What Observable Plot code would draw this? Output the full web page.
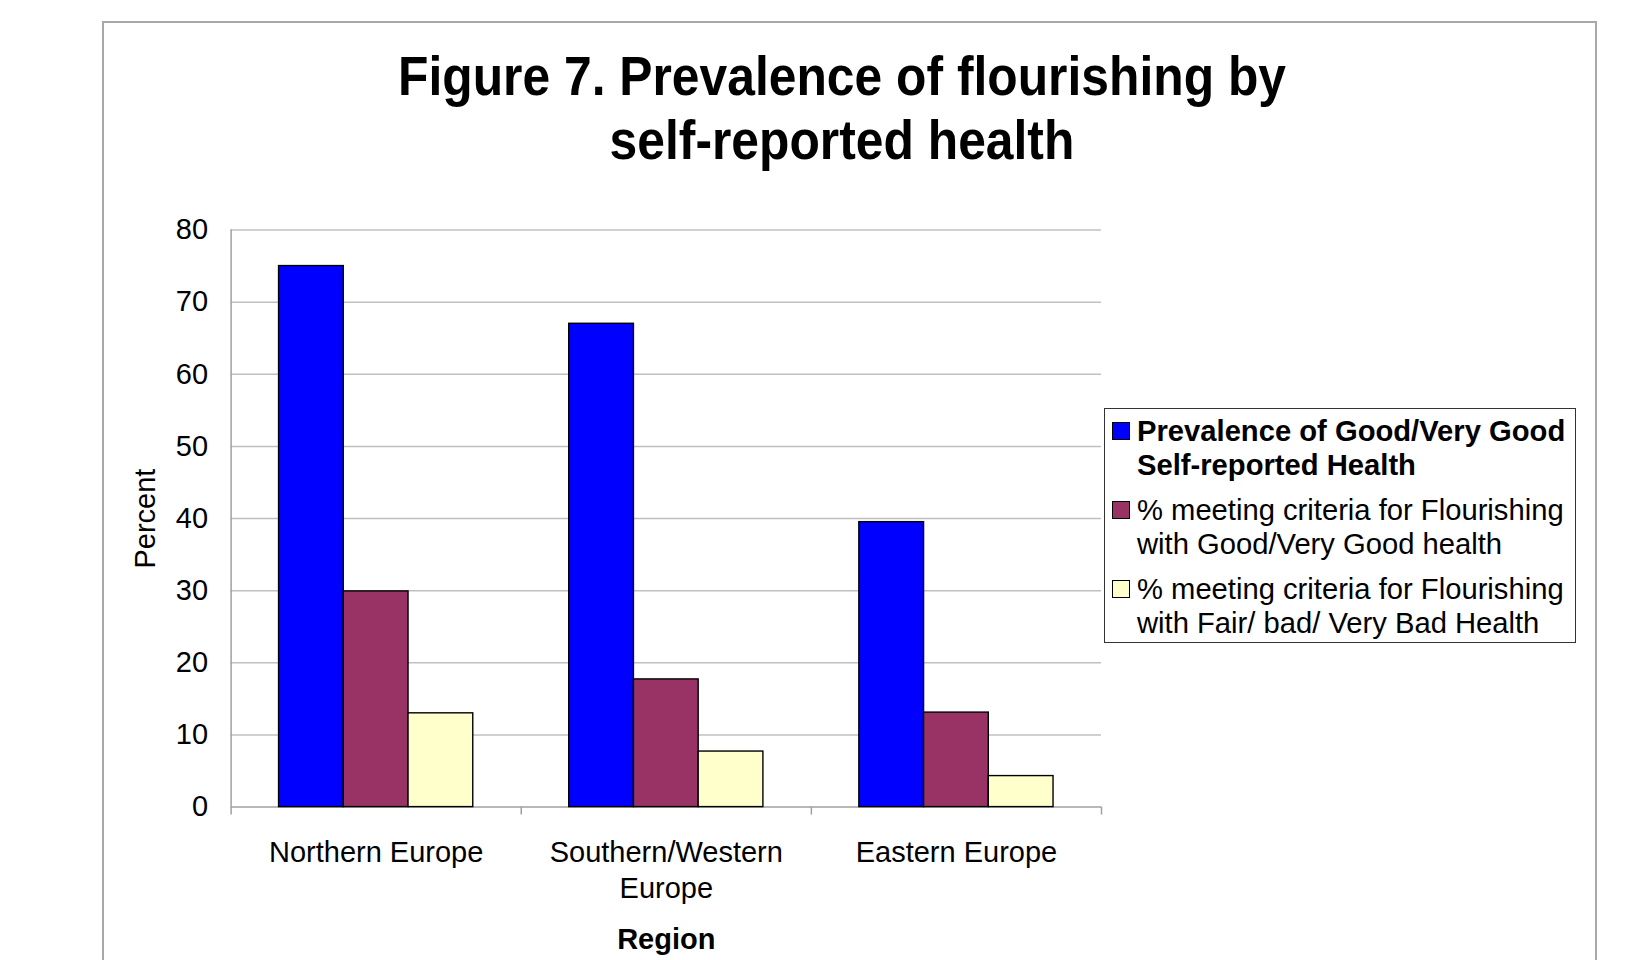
<!DOCTYPE html>
<html>
<head>
<meta charset="utf-8">
<script src="https://cdn.jsdelivr.net/npm/d3@7"></script>
<script src="https://cdn.jsdelivr.net/npm/@observablehq/plot@0.6"></script>
<style>
  html, body { margin: 0; padding: 0; background: #fff; }
  body { width: 1636px; height: 960px; overflow: hidden; position: relative;
         font-family: "Liberation Sans", Arial, Helvetica, sans-serif; color: #000; }
  #frame { position: absolute; left: 102px; top: 21px; width: 1495px; height: 1000px;
           border: 2px solid #a8a8a8; box-sizing: border-box; }
  #chart { position: absolute; left: 0; top: 0; }
  #title { position: absolute; left: 842px; top: 44px; transform: translateX(-50%) scaleX(0.889);
           font-weight: bold; font-size: 56px; line-height: 63.6px; text-align: center; white-space: nowrap; z-index: 2; }
  #legend { position: absolute; left: 1104px; top: 408px; width: 472px; height: 235px; box-sizing: border-box;
            border: 1px solid #333; background: #fff; padding-top: 5px; z-index: 2; }
  .item { display: flex; align-items: flex-start; margin-bottom: 10.8px; }
  .swatch { width: 18px; height: 18px; box-sizing: border-box; border: 1px solid #000;
            margin-left: 7px; margin-top: 8px; flex: none; }
  .label { margin-left: 7px; font-size: 29.2px; line-height: 34px; white-space: nowrap; }
  .label.bold { font-weight: bold; }
</style>
</head>
<body>
<div id="frame"></div>
<div id="chart"></div>
<div id="title"><div>Figure 7. Prevalence of flourishing by</div><div>self-reported health</div></div>
<div id="legend"></div>
<script>
// Regions on the horizontal axis
const regions = ["Northern Europe", "Southern/Western Europe", "Eastern Europe"];
const regionLabels = ["Northern Europe", "Southern/Western\nEurope", "Eastern Europe"];

// Series, in drawing order
const seriesNames = [
  "Prevalence of Good/Very Good\nSelf-reported Health",
  "% meeting criteria for Flourishing\nwith Good/Very Good health",
  "% meeting criteria for Flourishing\nwith Fair/ bad/ Very Bad Health"
];
const seriesColors = ["#0000ff", "#993366", "#ffffcc"];

// Percent values per region (same order as regions)
const goodHealth = [75, 67, 39.5];
const flourishingGoodHealth = [29.9, 17.7, 13.1];
const flourishingPoorHealth = [13, 7.7, 4.3];
const seriesValues = [goodHealth, flourishingGoodHealth, flourishingPoorHealth];

// Axis ticks
const yTicks = [0, 10, 20, 30, 40, 50, 60, 70, 80];
const categoryEdges = [0, 1, 2, 3];

// Each region occupies one unit on x; bars sit in a padded band inside it
const slot = d3.scaleBand().domain(seriesNames).range([0, 1]).paddingInner(0).paddingOuter(0.741);

const bars = regions.flatMap((region, i) =>
  seriesNames.map((series, j) => ({
    region,
    series,
    value: seriesValues[j][i],
    x1: i + slot(series),
    x2: i + slot(series) + slot.bandwidth()
  }))
);

const chart = Plot.plot({
  width: 1636,
  height: 960,
  marginLeft: 230.6,
  marginRight: 535,
  marginTop: 229.5,
  marginBottom: 153.4,
  style: { fontFamily: '"Liberation Sans", Arial, Helvetica, sans-serif', background: "transparent", overflow: "visible" },
  x: { domain: [0, 3], axis: null },
  y: { domain: [0, 80], axis: null },
  color: { domain: seriesNames, range: seriesColors },
  marks: [
    Plot.ruleY(yTicks.slice(1), { stroke: "#c0c0c0", strokeWidth: 1.5 }),
    Plot.ruleY([0], { stroke: "#a0a0a0", strokeWidth: 1.5 }),
    Plot.ruleX([0], { y1: 0, y2: 80, stroke: "#a0a0a0", strokeWidth: 1.5 }),
    Plot.axisX(categoryEdges, { tickSize: 8, tickFormat: () => "", stroke: "#a0a0a0", strokeWidth: 1.5, label: null }),
    Plot.rect(bars, {
      x1: "x1", x2: "x2", y1: () => 0, y2: "value",
      fill: "series", stroke: "#000", strokeWidth: 1.4
    }),
    Plot.axisY(yTicks, { tickSize: 0, tickPadding: 23, fontSize: 29, label: null }),
    Plot.text(["Percent"], { frameAnchor: "left", textAnchor: "middle", dx: -85, rotate: -90, fontSize: 29 }),
    Plot.text(regionLabels, {
      x: (d, i) => i + 0.5, frameAnchor: "bottom", dy: 29.3,
      lineAnchor: "top", lineHeight: 1.25, fontSize: 29
    }),
    Plot.text(["Region"], { frameAnchor: "bottom", dy: 121, lineAnchor: "top", fontSize: 29, fontWeight: "bold" })
  ]
});
document.getElementById("chart").appendChild(chart);

// Legend box
const legend = document.getElementById("legend");
seriesNames.forEach((name, j) => {
  const item = document.createElement("div");
  item.className = "item";
  const sw = document.createElement("div");
  sw.className = "swatch";
  sw.style.background = seriesColors[j];
  const lab = document.createElement("div");
  lab.className = "label" + (j === 0 ? " bold" : "");
  name.split("\n").forEach(line => {
    const l = document.createElement("div");
    l.textContent = line;
    lab.appendChild(l);
  });
  item.appendChild(sw);
  item.appendChild(lab);
  legend.appendChild(item);
});
</script>
</body>
</html>
